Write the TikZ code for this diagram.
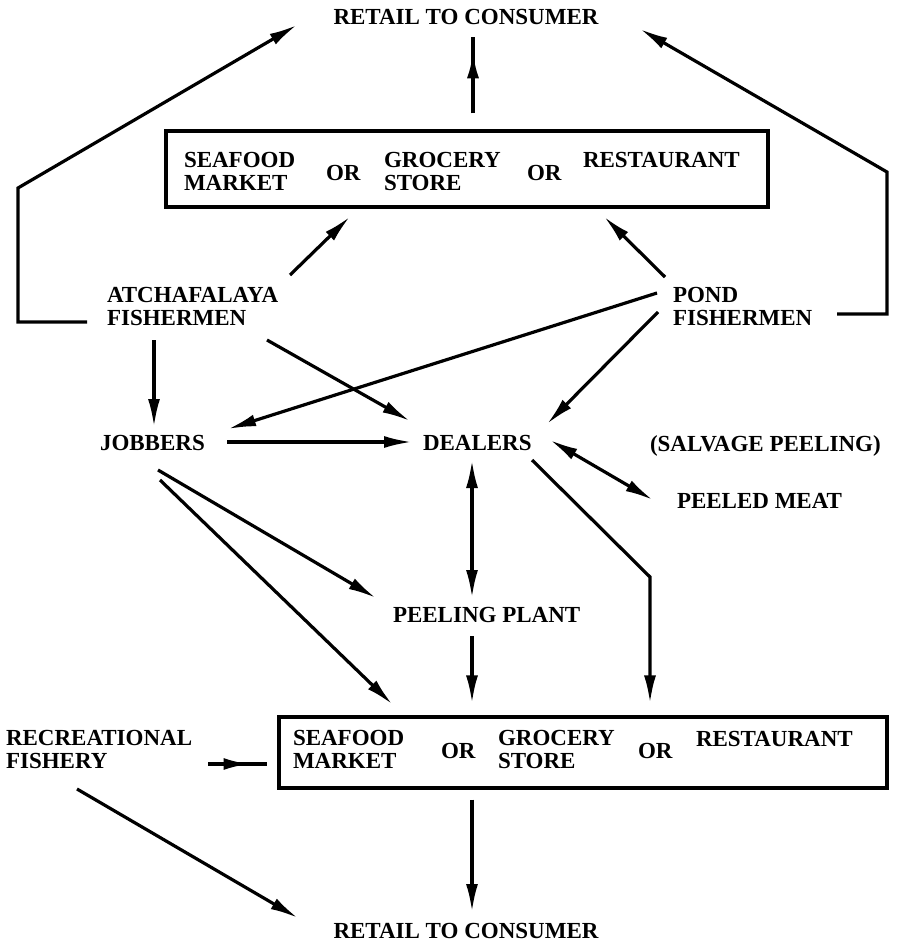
\documentclass[tikz,border=0pt]{standalone}
\usepackage{fontspec}
\setmainfont{Liberation Serif}
\usetikzlibrary{arrows.meta,calc,decorations.markings}
\tikzset{
  lbl/.style={inner sep=0pt, outer sep=0pt, font=\bfseries\fontsize{23}{23.5}\selectfont, align=left},
  boxx/.style={draw, line width=3.2pt, inner sep=0pt},
  conn/.style={line width=3.2pt, line join=miter},
  arr/.style={conn, -{Latex[length=28pt,width=12pt]}},
  darr/.style={conn, {Latex[length=28pt,width=12pt]}-{Latex[length=28pt,width=12pt]}},
  headat/.style={conn, postaction={decorate}, decoration={markings, mark=at position #1 with {\arrow{Latex[length=26pt,width=12pt]}}}}
}
\begin{document}
\begin{tikzpicture}[x=1pt,y=-1pt]
\useasboundingbox (0,0) rectangle (900,942);
% boxes
\node[boxx, minimum width=602pt, minimum height=76pt] (tbox) at (467,169) {};
\node[boxx, minimum width=608pt, minimum height=71pt] (bbox) at (583,752.5) {};
% top box texts
\node[lbl, anchor=north west] (ts) at (184,152) {SEAFOOD\\MARKET};
\node[lbl, anchor=base west] (tor1) at (326,180) {OR};
\node[lbl, anchor=north west] (tg) at (384,152) {GROCERY\\STORE};
\node[lbl, anchor=base west] (tor2) at (527,180) {OR};
\node[lbl, anchor=base west] (tr) at (583,167) {RESTAURANT};
% bottom box texts
\node[lbl, anchor=north west] (bs) at (293,730) {SEAFOOD\\MARKET};
\node[lbl, anchor=base west] (bor1) at (441,758) {OR};
\node[lbl, anchor=north west] (bg) at (498,730) {GROCERY\\STORE};
\node[lbl, anchor=base west] (bor2) at (638,758) {OR};
\node[lbl, anchor=base west] (br) at (696,746) {RESTAURANT};
% other texts
\node[lbl, anchor=base] (rtop) at (466,25) {RETAIL TO CONSUMER};
\node[lbl, anchor=base] (rbot) at (466,938) {RETAIL TO CONSUMER};
\node[lbl, anchor=north west] (atch) at (107,287) {ATCHAFALAYA\\FISHERMEN};
\node[lbl, anchor=north west] (pond) at (673,287) {POND\\FISHERMEN};
\node[lbl, anchor=base west] (jobbers) at (100,450) {JOBBERS};
\node[lbl, anchor=base west] (dealers) at (423,450) {DEALERS};
\node[lbl, anchor=base west] (salvage) at (650,451) {(SALVAGE PEELING)};
\node[lbl, anchor=base west] (peeled) at (677,508) {PEELED MEAT};
\node[lbl, anchor=base west] (plant) at (393,622) {PEELING PLANT};
\node[lbl, anchor=north west] (rec) at (6,730) {RECREATIONAL\\FISHERY};
% connectors
\draw[arr] ($(atch.north west)+(-20,35)$) -- ++(-69,0) -- ++(0,-134) -- ($(rtop.base)+(-169,0)$);
\draw[arr] ($(pond.north west)+(164,27)$) -- ++(50,0) -- ++(0,-142) -- ($(rtop.base)+(174,4)$);
\draw[headat=0.8] ($(tbox.north)+(6,-16)$) -- ($(rtop.base)+(7,12)$);
\draw[arr] ($(atch.north west)+(183,-12)$) -- ($(tbox.south)+(-117,8)$);
\draw[arr] ($(pond.north west)+(-8,-10)$) -- ($(tbox.south)+(137,8)$);
\draw[arr] ($(pond.north west)+(-16,6)$) -- ($(jobbers.base west)+(128,-21)$);
\draw[arr] ($(pond.north west)+(-15,25)$) -- ($(dealers.base west)+(124,-26)$);
\draw[arr] ($(atch.north west)+(47,53)$) -- ($(jobbers.base west)+(54,-23)$);
\draw[arr] ($(atch.north west)+(160,53)$) -- ($(dealers.base west)+(-13,-29)$);
\draw[arr] ($(jobbers.base west)+(127,-8)$) -- ($(dealers.base west)+(-11,-8)$);
\draw[darr] ($(dealers.base west)+(127,-10)$) -- ($(peeled.base west)+(-24,-8)$);
\draw[darr] ($(dealers.base west)+(49,10)$) -- ($(plant.base west)+(79,-24)$);
\draw[arr] ($(dealers.base west)+(109,10)$) -- ++(118,117) -- ($(bbox.north)+(67,-12)$);
\draw[arr] ($(jobbers.base west)+(58,20)$) -- ($(plant.base west)+(-17,-24)$);
\draw[arr] ($(jobbers.base west)+(60,30)$) -- ($(bbox.north west)+(115,-11)$);
\draw[arr] ($(plant.base west)+(79,14)$) -- ($(bbox.north)+(-111,-12)$);
\draw[arr] ($(bbox.south)+(-111,10)$) -- ($(rbot.base)+(6,-26)$);
\draw[headat=0.7] ($(rec.north west)+(202,34)$) -- ($(bbox.west)+(-10,11.5)$);
\draw[arr] ($(rec.north west)+(71,59)$) -- ($(rbot.base)+(-168,-20)$);
\end{tikzpicture}
\end{document}
